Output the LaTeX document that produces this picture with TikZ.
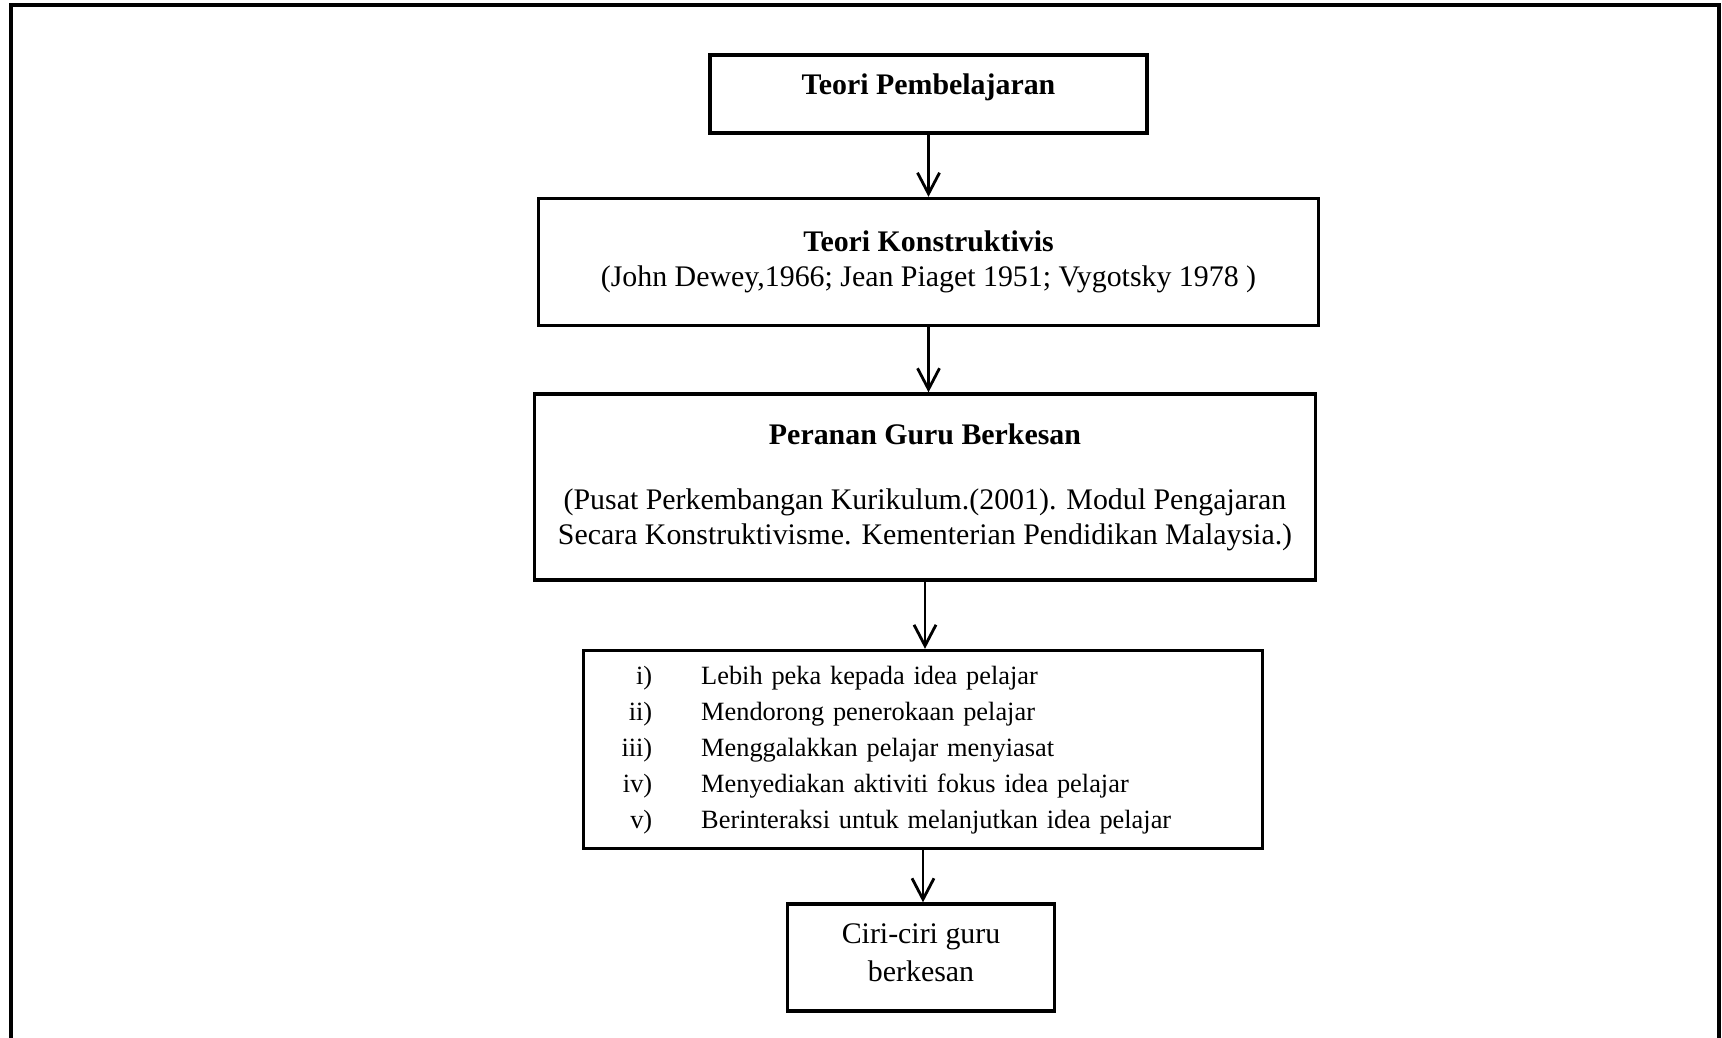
\documentclass[tikz,border=0pt]{standalone}
\usepackage{fontspec}
\setmainfont{Liberation Serif}
\usetikzlibrary{positioning,arrows.meta}

\tikzset{
  box/.style={draw, line width=2pt, align=center, inner sep=0pt,
    font=\fontsize{17}{20}\selectfont},
  flow/.style={line width=1.6pt, -{Straight Barb[length=4.2mm, width=4.4mm, line width=1.6pt]}},
  frame/.style={line width=1.8pt}
}

\begin{document}
\begin{tikzpicture}

  \useasboundingbox (0,0) rectangle (34.44,-20.74);
  \draw [frame] (0.22,-21) -- (0.22,-0.10) -- (34.38,-0.10) -- (34.38,-21);

  \node (teori) [box, minimum width=8.74cm, minimum height=1.56cm, text depth=0.4cm]
    at (18.57,-1.88) {\textbf{Teori Pembelajaran}};
  \node (kons) [box, minimum width=15.6cm, minimum height=2.54cm, below=1.24cm of teori]
    {\textbf{Teori Konstruktivis}\\(John Dewey,1966; Jean Piaget 1951; Vygotsky 1978 )};
  \node (peranan) [box, minimum width=15.62cm, minimum height=3.72cm, below=1.30cm of kons, xshift=-0.07cm]
    {\textbf{Peranan Guru Berkesan}\\[17pt]
     (Pusat Perkembangan Kurikulum.(2001). Modul Pengajaran\\
     Secara Konstruktivisme. Kementerian Pendidikan Malaysia.)};
  \node (senarai) [box, text width=13.58cm, minimum height=3.96cm, align=left,
    below=1.34cm of peranan, xshift=-0.04cm, font=\fontsize{15}{20.5}\selectfont]
    {\hspace*{0.76cm}\begin{tabular}{@{}r@{\hspace{0.98cm}}l@{}}
      i) & Lebih peka kepada idea pelajar\\
      ii) & Mendorong penerokaan pelajar\\
      iii) & Menggalakkan pelajar menyiasat\\
      iv) & Menyediakan aktiviti fokus idea pelajar\\
      v) & Berinteraksi untuk melanjutkan idea pelajar
    \end{tabular}};
  \node (ciri) [box, minimum width=5.34cm, minimum height=2.14cm, below=1.04cm of senarai,
    xshift=-0.04cm, font=\fontsize{17}{22}\selectfont, text depth=0.2cm] {Ciri-ciri guru\\berkesan};

  \draw [flow] (teori) -- (kons);
  \draw [flow] (kons) -- (kons|-peranan.north);
  \draw [flow] (peranan) -- (peranan|-senarai.north);
  \draw [flow] (senarai) -- (senarai|-ciri.north);

\end{tikzpicture}
\end{document}
